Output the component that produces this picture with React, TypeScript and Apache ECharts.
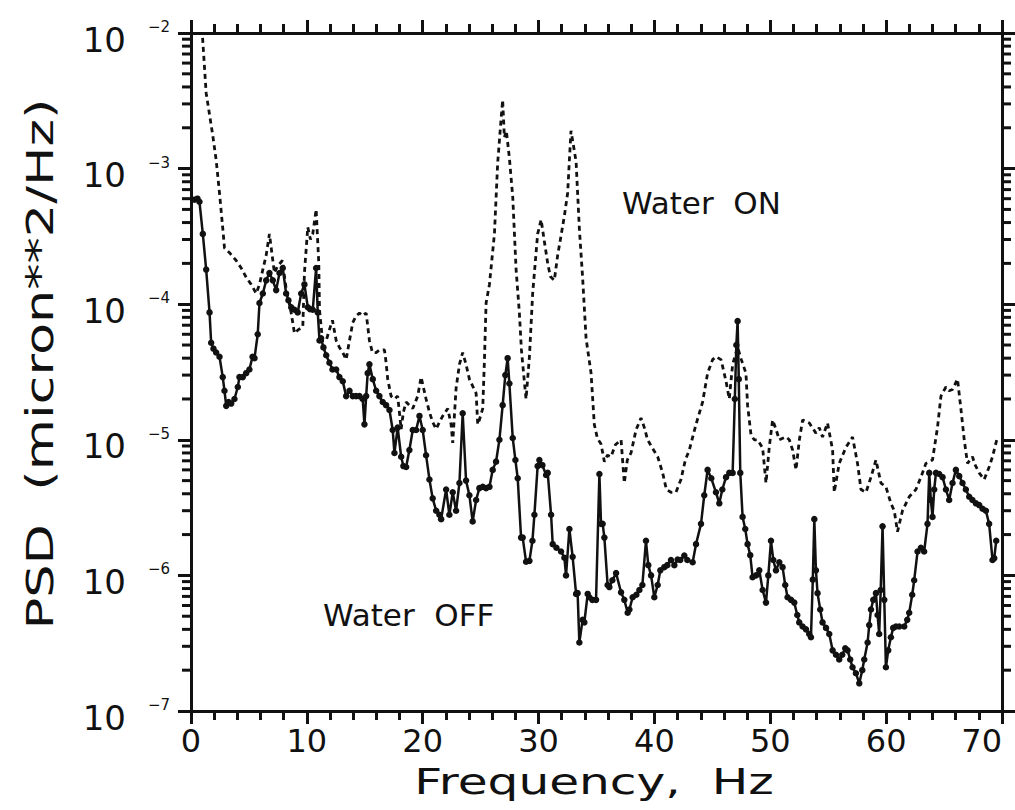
import React, { useEffect, useRef } from 'react';
import * as echarts from 'echarts';

// Water ON (dashed) — frequency (Hz) and PSD (micron^2/Hz)
const onFreq = [
  1.0, 1.31, 1.6, 1.86, 2.17, 2.46, 2.72, 2.89, 3.32, 3.9, 4.33, 4.76, 5.19, 5.63, 5.91, 6.2, 6.49, 6.77, 6.95, 7.2,
  7.46, 7.89, 8.21, 8.65, 8.93, 9.28, 9.65, 9.79, 10.08, 10.31, 10.51, 10.8, 11.03, 11.09, 11.35, 11.67, 11.95, 12.21, 12.53, 12.81,
  13.1, 13.39, 13.68, 13.96, 14.25, 14.54, 14.8, 15.12, 15.4, 15.66, 15.98, 16.26, 16.7, 16.84, 16.98, 17.27, 17.56, 17.84, 18.14, 18.33,
  18.57, 18.85, 19.14, 19.57, 19.86, 20.29, 20.58, 20.86, 21.16, 21.44, 21.73, 22.16, 22.45, 22.59, 22.88, 23.17, 23.45, 23.74, 24.03, 24.61,
  24.75, 24.89, 25.18, 25.32, 25.47, 25.76, 26.19, 26.47, 26.76, 26.9, 27.05, 27.22, 27.48, 27.77, 28.06, 28.34, 28.52, 28.77, 28.92, 29.21,
  29.49, 29.92, 30.22, 30.5, 30.79, 31.02, 31.36, 31.65, 31.94, 32.23, 32.51, 32.66, 32.8, 33.0, 33.24, 33.52, 33.8, 34.1, 34.53, 34.81,
  35.07, 35.39, 35.68, 35.94, 36.26, 36.63, 37.12, 37.4, 37.66, 37.98, 38.41, 38.84, 39.13, 39.41, 39.82, 40.28, 40.71, 41.03, 41.43, 41.86,
  42.29, 42.67, 43.01, 43.59, 44.16, 44.59, 45.02, 45.31, 45.75, 46.18, 46.46, 46.75, 47.18, 47.5, 47.9, 48.04, 48.34, 48.62, 48.9, 49.34,
  49.63, 49.91, 50.2, 50.49, 50.78, 51.36, 51.64, 51.93, 52.22, 52.51, 52.79, 53.37, 53.94, 54.23, 54.51, 54.94, 55.38, 55.52, 55.95, 56.53,
  57.1, 57.53, 57.83, 58.26, 58.69, 59.12, 59.55, 59.98, 60.41, 60.7, 60.98, 61.41, 61.99, 62.57, 63.0, 63.43, 64.0, 64.43, 64.73, 65.16,
  65.44, 65.73, 66.16, 66.45, 66.74, 67.02, 67.45, 67.69, 68.03, 68.46, 68.89, 69.18, 69.61,
];
const onPsd = [
  9.2e-3, 3.6e-3, 2.5e-3, 1.8e-3, 1.16e-3, 6.6e-4, 3.8e-4, 2.6e-4, 2.4e-4, 2.1e-4, 1.85e-4, 1.58e-4, 1.4e-4, 1.2e-4, 1.4e-4, 1.8e-4, 2.3e-4, 3.3e-4, 2.5e-4, 1.7e-4,
  1.9e-4, 2.1e-4, 1.3e-4, 8.6e-5, 6.1e-5, 6.5e-5, 6.8e-5, 1.7e-4, 3.7e-4, 3.0e-4, 3.3e-4, 5.0e-4, 2.0e-4, 9.1e-5, 5.4e-5, 5.4e-5, 6.5e-5, 7.6e-5, 5.4e-5, 4.8e-5,
  4.4e-5, 3.9e-5, 5.4e-5, 7.3e-5, 8.2e-5, 8.6e-5, 8.2e-5, 8.6e-5, 5.4e-5, 4.4e-5, 4.4e-5, 4.6e-5, 4.6e-5, 3.7e-5, 2.8e-5, 2.1e-5, 2.0e-5, 2.1e-5, 1.2e-5, 1.6e-5,
  1.9e-5, 1.8e-5, 1.7e-5, 2.1e-5, 2.9e-5, 2.0e-5, 1.6e-5, 1.35e-5, 1.2e-5, 1.35e-5, 1.5e-5, 1.7e-5, 1.3e-5, 9.5e-6, 2.4e-5, 3.6e-5, 4.4e-5, 3.6e-5, 2.8e-5, 2.2e-5,
  1.3e-5, 1.4e-5, 1.7e-5, 3.7e-5, 1.02e-4, 1.4e-4, 3.3e-4, 1.1e-3, 2.3e-3, 3.2e-3, 1.7e-3, 1.9e-3, 1.2e-3, 6.2e-4, 1.8e-4, 8.7e-5, 4.6e-5, 2.7e-5, 2.0e-5, 4.1e-5,
  1.2e-4, 3.3e-4, 4.2e-4, 2.9e-4, 2.0e-4, 1.6e-4, 1.5e-4, 2.3e-4, 3.2e-4, 4.5e-4, 6.6e-4, 1.16e-3, 1.9e-3, 1.5e-3, 1.12e-3, 3.6e-4, 1.58e-4, 5.6e-5, 3.1e-5, 1.3e-5,
  1.03e-5, 9.3e-6, 6.9e-6, 7.7e-6, 7.5e-6, 9.2e-6, 1.0e-5, 4.8e-6, 7.1e-6, 8.0e-6, 1.18e-5, 1.45e-5, 1.23e-5, 1.0e-5, 8.7e-6, 7.5e-6, 5.7e-6, 4.3e-6, 4.1e-6, 4.1e-6,
  5.1e-6, 7.1e-6, 8.4e-6, 1.3e-5, 1.9e-5, 3.1e-5, 3.9e-5, 4.1e-5, 3.9e-5, 2.7e-5, 2.0e-5, 3.6e-5, 4.8e-5, 3.9e-5, 3.1e-5, 1.8e-5, 1.08e-5, 1.0e-5, 1.0e-5, 8.7e-6,
  4.8e-6, 8.8e-6, 1.4e-5, 1.2e-5, 1.0e-5, 1.05e-5, 1.0e-5, 8.4e-6, 6.0e-6, 1.0e-5, 1.4e-5, 1.33e-5, 1.12e-5, 1.23e-5, 1.05e-5, 1.33e-5, 8.4e-6, 4.1e-6, 6.7e-6, 8.8e-6,
  1.05e-5, 6.7e-6, 4.3e-6, 4.1e-6, 5.3e-6, 7.1e-6, 4.8e-6, 4.5e-6, 3.4e-6, 3.0e-6, 2.1e-6, 3.0e-6, 3.8e-6, 4.3e-6, 5.3e-6, 6.7e-6, 7.1e-6, 1.23e-5, 2.1e-5, 2.45e-5,
  2.3e-5, 2.35e-5, 2.8e-5, 1.7e-5, 1.0e-5, 6.7e-6, 7.5e-6, 6.5e-6, 5.7e-6, 5.1e-6, 6.3e-6, 7.5e-6, 1.05e-5,
];

// Water OFF (solid with markers)
const offFreq = [
  0.3, 0.56, 0.73, 1.02, 1.31, 1.6, 1.74, 1.94, 2.17, 2.46, 2.74, 2.89, 3.04, 3.24, 3.47, 3.75, 4.04, 4.18, 4.47, 4.76,
  5.04, 5.31, 5.48, 5.76, 5.91, 6.2, 6.49, 6.77, 7.06, 7.35, 7.64, 7.92, 8.21, 8.41, 8.65, 8.93, 9.21, 9.51, 9.79, 10.08,
  10.27, 10.51, 10.8, 10.94, 11.09, 11.23, 11.43, 11.67, 11.95, 12.21, 12.53, 12.81, 13.1, 13.39, 13.68, 13.96, 14.25, 14.54, 14.82, 14.97,
  15.12, 15.25, 15.4, 15.69, 15.98, 16.26, 16.55, 16.84, 17.13, 17.41, 17.56, 17.84, 18.14, 18.33, 18.57, 18.85, 19.14, 19.43, 19.72, 20.0,
  20.29, 20.58, 20.86, 21.16, 21.44, 21.59, 22.02, 22.3, 22.59, 22.88, 23.17, 23.45, 23.74, 24.03, 24.31, 24.61, 24.89, 25.18, 25.47, 25.76,
  26.04, 26.33, 26.62, 26.9, 27.13, 27.33, 27.48, 27.77, 28.0, 28.2, 28.49, 28.63, 28.92, 29.21, 29.47, 29.64, 29.92, 30.07, 30.33, 30.65,
  30.79, 31.08, 31.22, 31.54, 31.94, 32.23, 32.37, 32.66, 32.94, 33.24, 33.37, 33.52, 33.8, 33.95, 34.24, 34.38, 34.64, 34.96, 35.25, 35.39,
  35.53, 35.68, 35.96, 36.11, 36.37, 36.69, 37.12, 37.4, 37.69, 37.84, 38.12, 38.44, 38.7, 38.96, 39.27, 39.47, 39.71, 39.99, 40.28, 40.51,
  40.85, 41.11, 41.43, 41.72, 42.0, 42.23, 42.58, 42.84, 43.3, 43.59, 44.02, 44.3, 44.59, 44.91, 45.31, 45.6, 45.86, 46.18, 46.46, 46.75,
  46.94, 47.07, 47.18, 47.28, 47.41, 47.61, 47.84, 48.04, 48.27, 48.47, 48.77, 49.05, 49.34, 49.63, 49.83, 50.06, 50.26, 50.49, 50.78, 51.06,
  51.29, 51.49, 51.79, 52.07, 52.33, 52.5, 52.79, 53.08, 53.36, 53.51, 53.67, 53.8, 53.94, 54.08, 54.31, 54.51, 54.81, 55.09, 55.38, 55.67,
  55.95, 56.21, 56.47, 56.67, 56.9, 57.1, 57.39, 57.68, 57.94, 58.11, 58.4, 58.54, 58.69, 58.89, 59.12, 59.26, 59.4, 59.53, 59.69, 59.84,
  59.98, 60.18, 60.41, 60.61, 60.85, 61.13, 61.56, 61.82, 61.99, 62.25, 62.42, 62.71, 63.0, 63.28, 63.57, 63.72, 63.86, 64.0, 64.15, 64.3,
  64.58, 64.87, 65.16, 65.44, 65.73, 66.02, 66.31, 66.59, 66.88, 67.17, 67.45, 67.75, 68.03, 68.32, 68.61, 68.89, 69.18, 69.33, 69.5,
];
const offPsd = [
  5.9e-4, 6.0e-4, 5.7e-4, 3.3e-4, 1.8e-4, 8.7e-5, 5.2e-5, 4.7e-5, 4.4e-5, 4.1e-5, 2.9e-5, 2.3e-5, 1.78e-5, 1.9e-5, 1.85e-5, 2.0e-5, 2.45e-5, 2.9e-5, 2.9e-5, 3.1e-5,
  3.3e-5, 4.1e-5, 4.0e-5, 6.0e-5, 1.02e-4, 1.2e-4, 1.5e-4, 1.7e-4, 1.5e-4, 1.27e-4, 1.7e-4, 1.85e-4, 1.2e-4, 1.07e-4, 9.5e-5, 9.1e-5, 8.7e-5, 1.2e-4, 1.4e-4, 9.5e-5,
  9.2e-5, 9.1e-5, 1.85e-4, 8.7e-5, 5.4e-5, 5.6e-5, 4.8e-5, 4.2e-5, 3.7e-5, 3.3e-5, 3.3e-5, 2.9e-5, 2.7e-5, 2.1e-5, 2.3e-5, 2.1e-5, 2.1e-5, 2.1e-5, 2.0e-5, 1.3e-5,
  2.1e-5, 3.1e-5, 3.6e-5, 2.8e-5, 2.3e-5, 2.1e-5, 1.9e-5, 1.8e-5, 1.66e-5, 1.18e-5, 8.0e-6, 1.23e-5, 7.5e-6, 6.4e-6, 6.3e-6, 8.4e-6, 1.18e-5, 1.18e-5, 1.5e-5, 1.18e-5,
  7.7e-6, 5.1e-6, 3.7e-6, 3.0e-6, 2.8e-6, 2.6e-6, 4.3e-6, 2.8e-6, 4.1e-6, 3.0e-6, 4.8e-6, 1.57e-5, 5.0e-6, 3.9e-6, 2.5e-6, 3.6e-6, 4.4e-6, 4.5e-6, 4.4e-6, 4.5e-6,
  6.0e-6, 6.9e-6, 1.0e-5, 1.8e-5, 3.0e-5, 4.0e-5, 2.6e-5, 1.03e-5, 7.1e-6, 5.2e-6, 1.9e-6, 1.9e-6, 1.26e-6, 1.28e-6, 1.8e-6, 2.8e-6, 6.4e-6, 7.1e-6, 6.5e-6, 5.5e-6,
  5.7e-6, 2.8e-6, 1.7e-6, 1.6e-6, 1.5e-6, 1.35e-6, 1.0e-6, 2.2e-6, 1.37e-6, 7.3e-7, 7.4e-7, 3.2e-7, 4.7e-7, 4.5e-7, 7.3e-7, 6.9e-7, 6.6e-7, 6.6e-7, 5.6e-6, 2.4e-6,
  2.4e-6, 1.9e-6, 8.5e-7, 8.2e-7, 9.2e-7, 1.04e-6, 7.5e-7, 6.6e-7, 5.3e-7, 5.6e-7, 6.9e-7, 7.2e-7, 7.8e-7, 8.5e-7, 1.8e-6, 1.19e-6, 1.0e-6, 6.9e-7, 8.5e-7, 1.09e-6,
  1.15e-6, 1.19e-6, 1.3e-6, 1.19e-6, 1.31e-6, 1.3e-6, 1.4e-6, 1.3e-6, 1.25e-6, 1.7e-6, 2.4e-6, 3.9e-6, 6.0e-6, 5.2e-6, 4.1e-6, 3.4e-6, 4.3e-6, 5.3e-6, 5.7e-6, 5.7e-6,
  2.0e-5, 5.0e-5, 7.5e-5, 2.8e-5, 5.7e-6, 2.7e-6, 2.2e-6, 1.7e-6, 1.41e-6, 9.7e-7, 1.0e-6, 1.09e-6, 7.8e-7, 6.3e-7, 1.0e-6, 1.8e-6, 1.3e-6, 1.09e-6, 1.25e-6, 1.15e-6,
  8.5e-7, 6.9e-7, 6.6e-7, 6.3e-7, 5.1e-7, 4.5e-7, 4.2e-7, 4.0e-7, 3.7e-7, 3.5e-7, 9.3e-7, 2.6e-6, 1.09e-6, 7.4e-7, 5.6e-7, 4.5e-7, 4.1e-7, 3.7e-7, 2.8e-7, 2.6e-7,
  2.4e-7, 2.6e-7, 2.9e-7, 2.8e-7, 2.4e-7, 2.1e-7, 1.9e-7, 1.6e-7, 2.0e-7, 2.4e-7, 3.2e-7, 4.3e-7, 5.6e-7, 6.6e-7, 7.4e-7, 5.1e-7, 3.7e-7, 7.8e-7, 2.3e-6, 6.6e-7,
  2.1e-7, 2.8e-7, 3.5e-7, 4.1e-7, 4.2e-7, 4.2e-7, 4.2e-7, 4.7e-7, 5.3e-7, 7.2e-7, 9.2e-7, 1.5e-6, 1.6e-6, 1.5e-6, 2.4e-6, 5.7e-6, 3.6e-6, 2.7e-6, 4.3e-6, 5.7e-6,
  5.6e-6, 5.3e-6, 4.3e-6, 3.6e-6, 4.8e-6, 6.0e-6, 5.4e-6, 4.8e-6, 4.3e-6, 3.8e-6, 3.6e-6, 3.4e-6, 3.3e-6, 3.1e-6, 3.0e-6, 2.4e-6, 1.3e-6, 1.34e-6, 1.8e-6,
];

// Log-axis minor tick positions (decade exponents and mantissas)
const decadeExponents = [-7, -6, -5, -4, -3];
const minorMantissas = [2, 3, 4, 5, 6, 7, 8, 9];

const INK = '#111111';
const FONT = 'DejaVu Sans';

export default function App() {
  const ref = useRef<HTMLDivElement>(null);

  useEffect(() => {
    if (!ref.current) return;
    const chart = echarts.init(ref.current, null, { renderer: 'svg' });

    const onData = onFreq.map((f, i) => [f, onPsd[i]]);
    const offData = offFreq.map((f, i) => [f, offPsd[i]]);
    const minorData: number[][] = [];
    decadeExponents.forEach((e) =>
      minorMantissas.forEach((m) => minorData.push([0, m * Math.pow(10, e)]))
    );

    const mkXAxis = (position: string, labels: any) => ({
      type: 'value',
      position,
      min: 0,
      max: 70,
      interval: 10,
      axisLine: { show: true, onZero: false, lineStyle: { color: INK, width: 3 } },
      axisTick: { show: true, length: 13, lineStyle: { color: INK, width: 3 } },
      minorTick: { show: true, splitNumber: 5, length: 9, lineStyle: { color: INK, width: 3 } },
      splitLine: { show: false },
      axisLabel: labels,
    });
    const mkYAxis = (position: string, labels: any) => ({
      type: 'log',
      position,
      min: 1e-7,
      max: 1e-2,
      axisLine: { show: true, onZero: false, lineStyle: { color: INK, width: 3 } },
      axisTick: { show: true, length: 13, lineStyle: { color: INK, width: 3 } },
      splitLine: { show: false },
      axisLabel: labels,
    });

    const option: any = {
      animation: false,
      grid: { left: 191, right: 13, top: 33, bottom: 99 },
      xAxis: [
        mkXAxis('bottom', {
          show: true,
          margin: 14,
          fontSize: 32,
          fontFamily: FONT,
          color: INK,
          alignMaxLabel: 'right',
        }),
        mkXAxis('top', { show: false }),
      ],
      yAxis: [
        mkYAxis('left', {
          show: true,
          margin: 21,
          formatter: (v: number) => {
            const e = Math.round(Math.log10(v));
            return `{b|10}{s|\u2212${-e}}`;
          },
          rich: {
            b: { fontSize: 34, lineHeight: 34, fontFamily: FONT, color: INK, padding: [13, 0, 0, 0] },
            s: { fontSize: 15, lineHeight: 15, fontFamily: FONT, color: INK, padding: [0, 0, 12, 22] },
          },
        }),
        mkYAxis('right', { show: false }),
      ],
      series: [
        {
          name: 'Water ON',
          type: 'line',
          data: onData,
          showSymbol: false,
          lineStyle: { color: INK, width: 2.8, type: [5, 4] },
        },
        {
          name: 'Water OFF',
          type: 'line',
          data: offData,
          showSymbol: true,
          showAllSymbol: true,
          symbol: 'circle',
          symbolSize: 6.5,
          itemStyle: { color: INK },
          lineStyle: { color: INK, width: 2.5 },
        },
        {
          name: 'minorTicks',
          type: 'custom',
          clip: false,
          data: minorData,
          renderItem: (params: any, api: any) => {
            const y = api.coord([0, api.value(1)])[1];
            const cs = params.coordSys;
            const st = { stroke: INK, lineWidth: 3 };
            return {
              type: 'group',
              children: [
                { type: 'line', shape: { x1: cs.x - 9, y1: y, x2: cs.x, y2: y }, style: st },
                { type: 'line', shape: { x1: cs.x + cs.width, y1: y, x2: cs.x + cs.width + 9, y2: y }, style: st },
              ],
            };
          },
        },
      ],
      graphic: [
        {
          type: 'text',
          x: 40,
          y: 364,
          rotation: Math.PI / 2,
          scaleX: 1.42,
          style: {
            text: 'PSD  (micron**2/Hz)',
            fontSize: 37,
            fontFamily: FONT,
            fill: INK,
            align: 'center',
            verticalAlign: 'middle',
          },
        },
        {
          type: 'text',
          x: 594,
          y: 781,
          scaleX: 1.35,
          style: {
            text: 'Frequency,  Hz',
            fontSize: 36,
            fontFamily: FONT,
            fill: INK,
            align: 'center',
            verticalAlign: 'middle',
          },
        },
        {
          type: 'text',
          x: 622,
          y: 203,
          style: { text: 'Water  ON', fontSize: 31, fontFamily: FONT, fill: INK, align: 'left', verticalAlign: 'middle' },
        },
        {
          type: 'text',
          x: 323,
          y: 615,
          style: { text: 'Water  OFF', fontSize: 31, fontFamily: FONT, fill: INK, align: 'left', verticalAlign: 'middle' },
        },
      ],
    };

    chart.setOption(option);
    return () => chart.dispose();
  }, []);

  return (
    <div
      ref={ref}
      style={{ position: 'absolute', left: 0, top: 0, width: 1015, height: 810, background: '#ffffff' }}
    />
  );
}
